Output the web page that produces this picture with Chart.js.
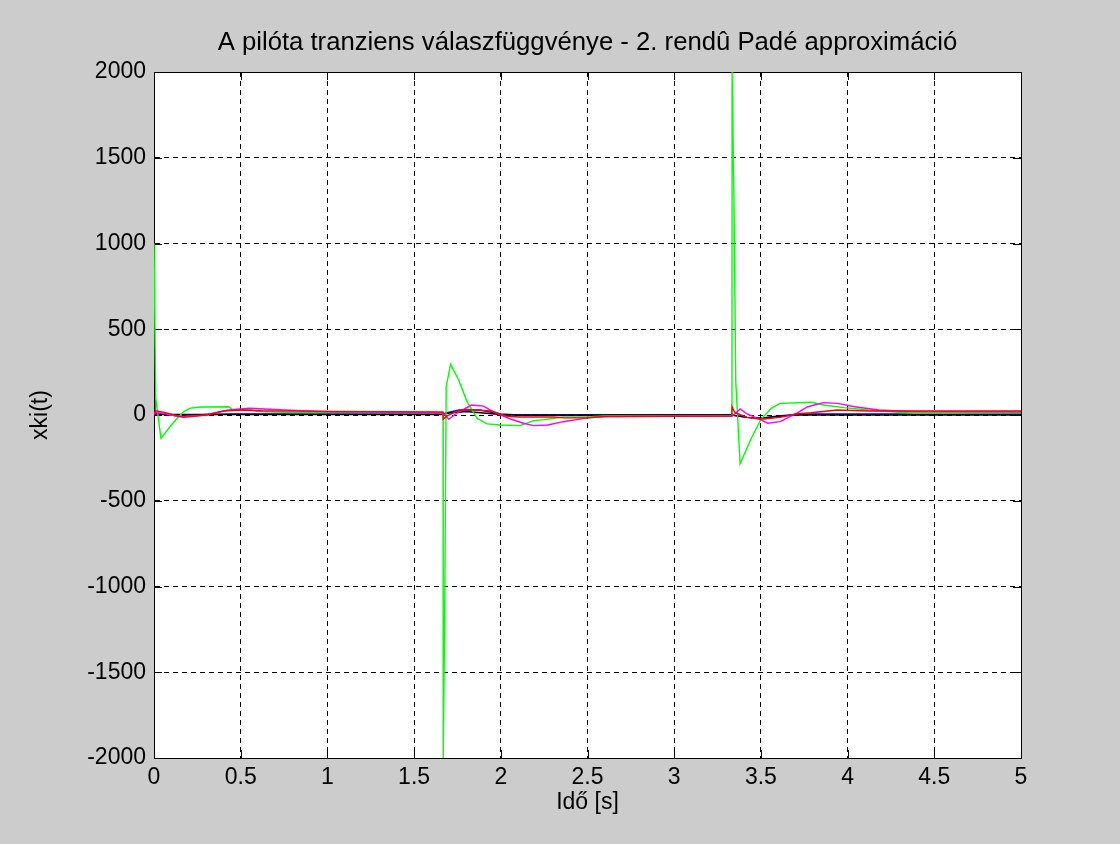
<!DOCTYPE html>
<html>
<head>
<meta charset="utf-8">
<script src="https://cdn.jsdelivr.net/npm/chart.js@4/dist/chart.umd.min.js"></script>
<style>
html,body{margin:0;padding:0;background:#cccccc;}
#c{display:block;}
</style>
</head>
<body>
<canvas id="c" width="1120" height="844"></canvas>
<script>
// ---- data ----
const chartTitle = 'A pilóta tranziens válaszfüggvénye - 2. rendû Padé approximáció';
const xTitle = 'Idő [s]';
const yTitle = 'xki(t)';
const xTicks = [0, 0.5, 1, 1.5, 2, 2.5, 3, 3.5, 4, 4.5, 5];
const xTickLabels = ['0', '0.5', '1', '1.5', '2', '2.5', '3', '3.5', '4', '4.5', '5'];
const yTicks = [-2000, -1500, -1000, -500, 0, 500, 1000, 1500, 2000];
const yTickLabels = ['-2000', '-1500', '-1000', '-500', '0', '500', '1000', '1500', '2000'];

const greenT = [0, 0.01, 0.04, 0.10, 0.14, 0.17, 0.21, 0.27, 0.43, 0.45, 0.55, 0.60, 0.80, 1.667, 1.668, 1.676, 1.685, 1.71, 1.757, 1.805, 1.863, 1.92, 2.0, 2.11, 2.19, 2.25, 2.36, 2.5, 2.61, 3.333, 3.334, 3.345, 3.355, 3.38, 3.44, 3.5, 3.56, 3.61, 3.79, 3.86, 3.98, 4.12, 4.29, 4.38, 5];
const greenV = [1000, 100, -136, -58, -12, 19, 40, 47, 48, 33, 33, 20, 15, 13, -2000, -1213, 165, 295, 204, 78, -19, -52, -58, -62, -33, -27, -12, -12, -4, -4, 2000, 1225, 194, -285, -146, -25, 39, 68, 74, 58, 43, 29, 16, 10, 13];

const redT = [0, 0.01, 0.06, 0.17, 0.30, 0.40, 0.50, 0.62, 1.0, 1.666, 1.668, 1.69, 1.74, 1.80, 1.94, 2.03, 2.10, 2.30, 2.37, 2.50, 2.60, 3.332, 3.334, 3.35, 3.42, 3.50, 3.61, 3.70, 3.79, 3.94, 4.12, 5];
const redV = [0, 25, 15, -14, 0, 23, 29, 25, 21, 18, -25, -5, 19, 33, 23, -6, -12, -12, -17, -17, -9, -6, 48, 13, -14, -25, -14, 6, 13, 29, 23, 23];

const magT = [0, 0.05, 0.15, 0.30, 0.43, 0.55, 0.75, 1.0, 1.667, 1.70, 1.75, 1.83, 1.90, 1.94, 2.0, 2.06, 2.13, 2.19, 2.27, 2.36, 2.5, 2.6, 3.333, 3.35, 3.38, 3.42, 3.5, 3.54, 3.61, 3.7, 3.77, 3.86, 3.94, 4.04, 4.18, 4.38, 5];
const magV = [15, 10, -10, 0, 29, 39, 29, 19, 13, -25, 13, 58, 52, 29, 0, -25, -48, -62, -58, -39, -17, -9, -6, 6, 35, 6, -29, -48, -39, 6, 48, 72, 68, 48, 29, 19, 19];

const blueT = [0, 0.02, 0.15, 0.30, 0.45, 1.0, 1.667, 1.69, 1.76, 1.88, 2.0, 2.1, 3.333, 3.36, 3.42, 3.5, 3.6, 3.7, 3.8, 5];
const blueV = [0, 10, -8, 3, 6, 6, 6, 13, 29, 29, 6, 0, 0, -5, -14, -19, -6, 3, 6, 6];

const blackT = [0, 0.005, 0.02, 0.3, 1.667, 1.69, 1.8, 2.0, 2.1, 3.333, 3.42, 3.5, 3.6, 3.7, 5];
const blackV = [90, 20, 3, 3, 3, 10, 20, 3, 0, 0, -14, -19, -8, 0, 0];

// ---- build ----
function pts(t, v) { return t.map((x, i) => ({x: x, y: v[i]})); }
function ds(t, v, color) {
  return {data: pts(t, v), borderColor: color, backgroundColor: color, borderWidth: 1.4,
          pointRadius: 0, tension: 0, fill: false, showLine: true, xAxisID: 'x', yAxisID: 'y'};
}

const FONT = 'Liberation Sans, Arial, Helvetica, sans-serif';

const framePlugin = {
  id: 'frame',
  beforeDraw(chart) {
    const {ctx, chartArea: a} = chart;
    ctx.save();
    ctx.fillStyle = '#cccccc';
    ctx.fillRect(0, 0, chart.width, chart.height);
    ctx.fillStyle = '#ffffff';
    ctx.fillRect(a.left, a.top, a.right - a.left, a.bottom - a.top);
    ctx.restore();
  },
  beforeDatasetsDraw(chart) {
    const {ctx, chartArea: a, scales} = chart;
    ctx.save();
    ctx.strokeStyle = '#000';
    ctx.lineWidth = 1;
    ctx.setLineDash([]);
    ctx.strokeRect(Math.round(a.left) + 0.5, Math.round(a.top) + 0.5,
                   Math.round(a.right - a.left), Math.round(a.bottom - a.top));
    const L = 8;
    ctx.beginPath();
    xTicks.forEach(v => {
      const px = Math.round(scales.x.getPixelForValue(v)) + 0.5;
      ctx.moveTo(px, a.bottom); ctx.lineTo(px, a.bottom - L);
      ctx.moveTo(px, a.top); ctx.lineTo(px, a.top + L);
    });
    yTicks.forEach(v => {
      const py = Math.round(scales.y.getPixelForValue(v)) + 0.5;
      ctx.moveTo(a.left, py); ctx.lineTo(a.left + L, py);
      ctx.moveTo(a.right, py); ctx.lineTo(a.right - L, py);
    });
    ctx.stroke();
    ctx.restore();
  }
};

new Chart(document.getElementById('c'), {
  type: 'line',
  data: {
    datasets: [
      ds(redT, redV, '#ff0000'),
      ds(magT, magV, '#ff00ff'),
      ds(greenT, greenV, '#00ff00'),
      ds(blackT, blackV, '#000000'),
      ds(blueT, blueV, '#0000ff')
    ]
  },
  options: {
    responsive: false,
    animation: false,
    devicePixelRatio: 1,
    layout: {padding: {left: 0, right: 99, top: 0, bottom: 0}},
    plugins: {
      legend: {display: false},
      tooltip: {enabled: false},
      title: {display: false}
    },
    scales: {
      x: {
        type: 'linear', position: 'bottom', min: 0, max: 5,
        afterBuildTicks(s) { s.ticks = xTicks.map(v => ({value: v})); },
        afterFit(s) { s.height = 86; },
        ticks: {
          color: '#000', padding: 6, maxRotation: 0, autoSkip: false,
          font: {family: FONT, size: 23},
          callback(v) { const i = xTicks.indexOf(v); return i >= 0 ? xTickLabels[i] : ''; }
        },
        grid: {color: '#000', lineWidth: 1, drawTicks: false},
        border: {display: true, color: '#000', width: 1, dash: [5, 4]},
        title: {display: true, text: xTitle, color: '#000',
                font: {family: FONT, size: 23}, padding: {top: 0, bottom: 28}}
      },
      xTop: {
        type: 'linear', position: 'top', min: 0, max: 5, display: true,
        afterFit(s) { s.height = 72; },
        ticks: {display: false},
        grid: {display: false, drawTicks: false},
        border: {display: false},
        title: {display: true, text: chartTitle, color: '#000',
                font: {family: FONT, size: 25.7}, padding: {top: 27, bottom: 0}}
      },
      y: {
        type: 'linear', min: -2000, max: 2000,
        afterBuildTicks(s) { s.ticks = yTicks.map(v => ({value: v})); },
        afterFit(s) { s.width = 154; },
        ticks: {
          color: '#000', padding: 8, autoSkip: false,
          font: {family: FONT, size: 23},
          callback(v) { const i = yTicks.indexOf(v); return i >= 0 ? yTickLabels[i] : ''; }
        },
        grid: {color: '#000', lineWidth: 1, drawTicks: false},
        border: {display: true, color: '#000', width: 1, dash: [5, 4]},
        title: {display: true, text: yTitle, color: '#000',
                font: {family: FONT, size: 23}, padding: {top: 27, bottom: 0}}
      }
    }
  },
  plugins: [framePlugin]
});
</script>
</body>
</html>
